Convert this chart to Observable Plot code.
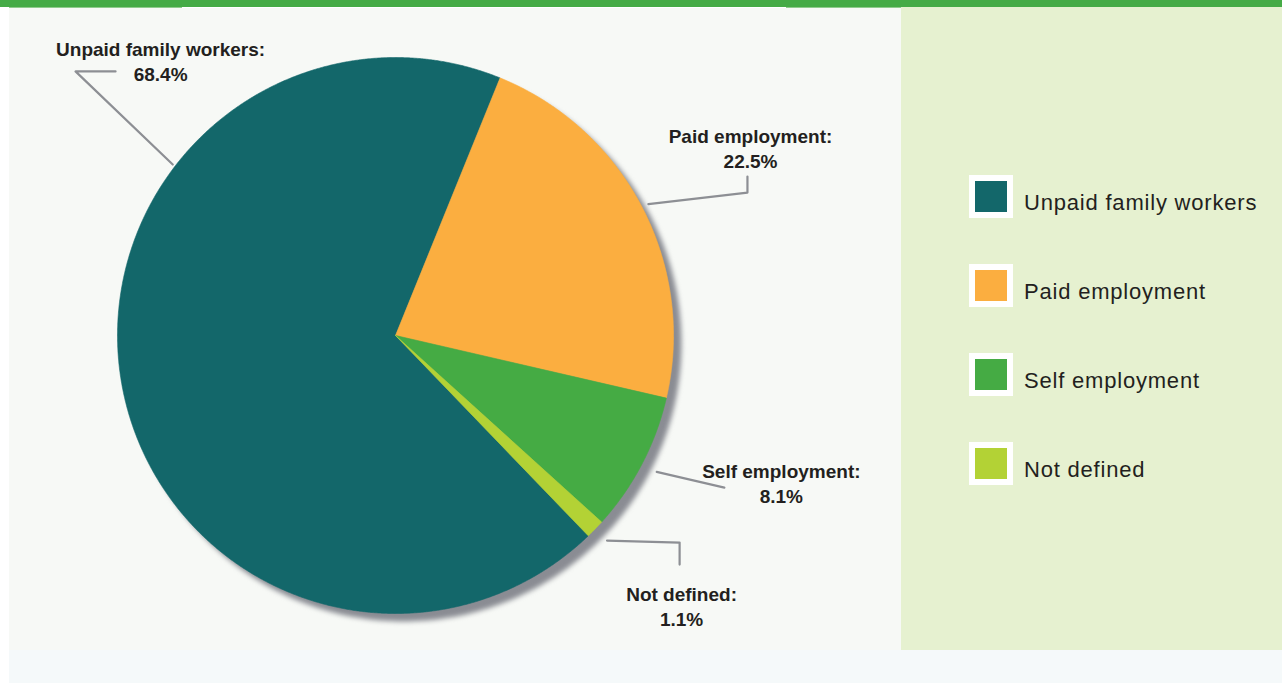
<!DOCTYPE html>
<html><head><meta charset="utf-8">
<script src="https://cdn.jsdelivr.net/npm/d3@7"></script>
<script src="https://cdn.jsdelivr.net/npm/@observablehq/plot@0.6"></script>
<style>
html,body{margin:0;padding:0;background:#fff;}
#wrap{position:relative;width:1282px;height:683px;overflow:hidden;font-family:"Liberation Sans",Arial,sans-serif;background:#fff;}
.bar{position:absolute;left:0;top:0;width:1282px;height:7px;background:#45ab46;}
.bar1{position:absolute;left:9px;top:7px;width:173px;height:1px;background:#8fcb8c;}
.bar2{position:absolute;left:786px;top:7px;width:115px;height:1px;background:#8fcb8c;}
.leftpanel{position:absolute;left:9px;top:8px;width:892px;height:642px;background:#f7f9f6;}
.rightpanel{position:absolute;left:901px;top:7px;width:381px;height:643px;background:#e6f1d0;}
.bottom{position:absolute;left:9px;top:650px;width:1273px;height:33px;background:#f5f9fa;}
#chart{position:absolute;left:0;top:0;}
#legend{position:absolute;left:0;top:0;}
.item{position:absolute;left:68px;height:43px;}
.sw{position:absolute;left:0;top:0;width:32px;height:31px;border:6px solid #fff;}
.lt{position:absolute;left:55px;top:14px;white-space:nowrap;font-size:22px;letter-spacing:0.8px;color:#231f20;line-height:28px;}
</style></head><body>
<div id="wrap">
  <div class="bar"></div><div class="bar1"></div><div class="bar2"></div>
  <div class="leftpanel"></div>
  <div class="rightpanel"><div id="legend"></div></div>
  <div class="bottom"></div>
  <div id="chart"></div>
</div>
<script>
// ---- data ----
const categories = ["Unpaid family workers", "Paid employment", "Self employment", "Not defined"];
const shares = [68.4, 22.5, 8.1, 1.1];
const valueLabels = ["68.4%", "22.5%", "8.1%", "1.1%"];
const colors = ["#13676a", "#fbae40", "#45ab44", "#b3d235"];
const startDeg = 136.1; // first slice (Unpaid) starts here, clockwise from 12 o'clock

// ---- label layout (in pie-radius units, y up) ----
const labelX = [-0.845, 1.277, 1.388, 1.029];
const labelY = [1.071, 0.757, -0.448, -0.890];
const leaderAngleDeg = [307.5, null, null, null]; // null -> slice mid angle
const leaderStartR = [1.01, 1.025, 1.06, 1.06];
const leaderBends = [
  [[-1.151, 0.950], [-1.007, 0.950]],
  [[1.266, 0.514], [1.266, 0.572]],
  [[1.183, -0.547]],
  [[1.022, -0.745], [1.022, -0.824]]
];

const rad = Math.PI / 180;
const arcs = d3.pie().sort(null).value(d => d)
  .startAngle(startDeg * rad).endAngle(startDeg * rad + 2 * Math.PI)(shares);

const slicePts = [];
arcs.forEach((a, i) => {
  const cat = categories[i];
  slicePts.push({cat, x: 0, y: 0});
  const n = Math.max(2, Math.ceil((a.endAngle - a.startAngle) / (0.25 * rad)));
  for (let k = 0; k <= n; k++) {
    const t = a.startAngle + (a.endAngle - a.startAngle) * k / n;
    slicePts.push({cat, x: Math.sin(t), y: Math.cos(t)});
  }
  slicePts.push({cat, x: 0, y: 0});
});

const discPts = d3.range(0, 361, 1).map(d => ({x: Math.sin(d * rad), y: Math.cos(d * rad)}));

const leaderPts = [];
arcs.forEach((a, i) => {
  const cat = categories[i];
  const ang = leaderAngleDeg[i] != null ? leaderAngleDeg[i] * rad : (a.startAngle + a.endAngle) / 2;
  leaderPts.push({cat, x: leaderStartR[i] * Math.sin(ang), y: leaderStartR[i] * Math.cos(ang)});
  leaderBends[i].forEach(([x, y]) => leaderPts.push({cat, x, y}));
});

const labels = categories.map((c, i) => ({x: labelX[i], y: labelY[i], text: c + ":\n" + valueLabels[i]}));

const plot = Plot.plot({
  width: 901, height: 683,
  marginLeft: 117, marginRight: 228, marginTop: 57, marginBottom: 70,
  x: {domain: [-1, 1], axis: null},
  y: {domain: [-1, 1], axis: null},
  color: {domain: categories, range: colors},
  style: {background: "transparent", fontFamily: "'Liberation Sans', Arial, sans-serif", overflow: "visible"},
  marks: [
    Plot.line(discPts, {x: "x", y: "y", fill: "#8a8c93", stroke: "none", dx: 8, dy: 8}),
    Plot.line(slicePts, {x: "x", y: "y", z: "cat", fill: "cat", stroke: "cat", strokeWidth: 0.6, curve: "linear"}),
    Plot.line(leaderPts, {x: "x", y: "y", z: "cat", stroke: "#8d8f94", strokeWidth: 2.2, curve: "linear"}),
    Plot.text(labels, {x: "x", y: "y", text: "text", fontWeight: "bold", fontSize: 19, lineAnchor: "top", lineHeight: 1.32, fill: "#231f20", textAnchor: "middle"})
  ]
});
const shadowG = plot.querySelector('g[aria-label="line"]');
if (shadowG) shadowG.setAttribute("style", "filter: blur(2.5px)");
document.getElementById("chart").appendChild(plot);

// ---- legend ----
const legend = document.getElementById("legend");
categories.forEach((c, i) => {
  const item = document.createElement("div");
  item.className = "item";
  item.style.top = (168 + i * 89) + "px";
  const sw = document.createElement("div");
  sw.className = "sw"; sw.style.background = colors[i];
  const t = document.createElement("div");
  t.className = "lt"; t.textContent = c;
  item.appendChild(sw); item.appendChild(t);
  legend.appendChild(item);
});
</script>
</body></html>
